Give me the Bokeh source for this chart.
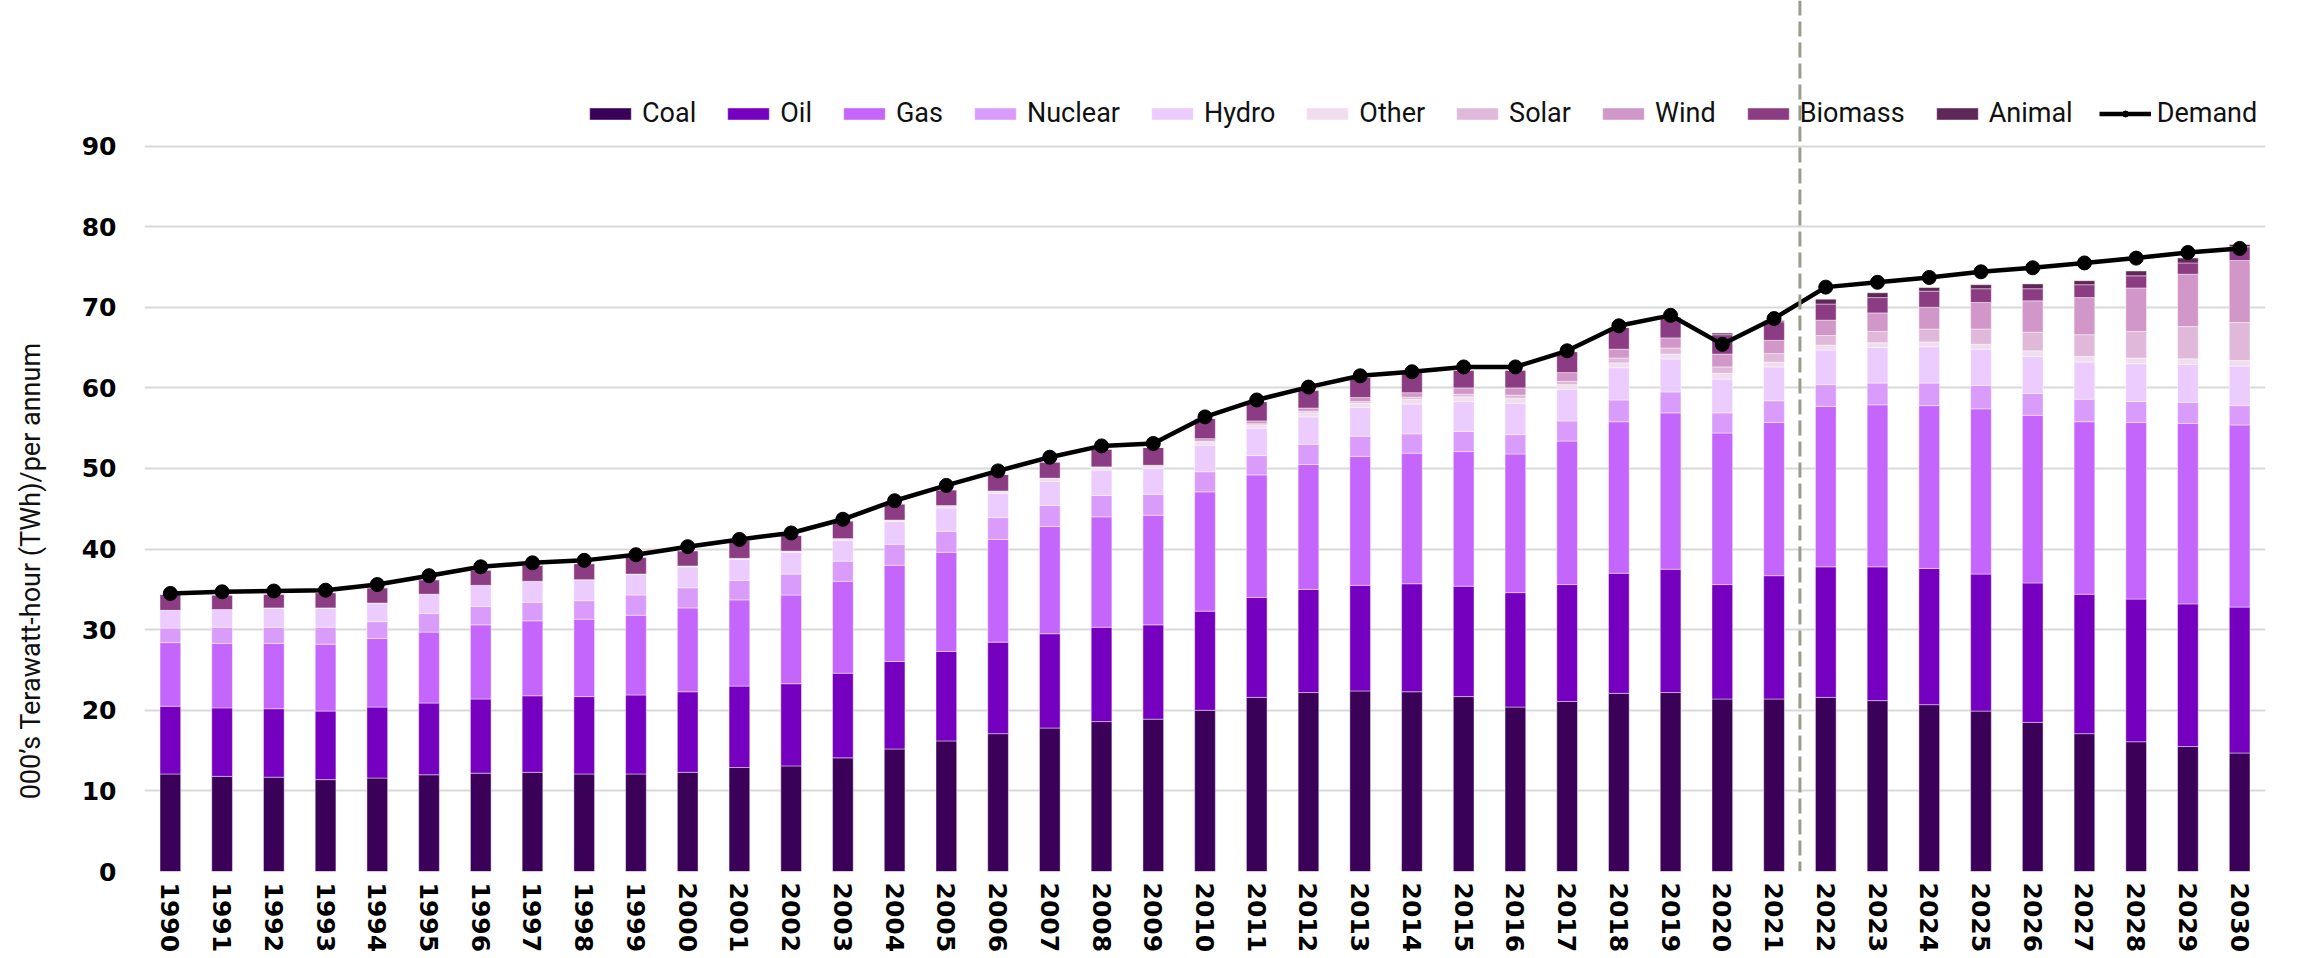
import math
from bokeh.plotting import figure
from bokeh.layouts import row
from bokeh.models import (ColumnDataSource, FixedTicker, Range1d, Span, Legend,
                          LegendItem)
from bokeh.core.properties import value
from bokeh.embed import file_html
from bokeh.resources import INLINE

years = ["1990", "1991", "1992", "1993", "1994", "1995", "1996", "1997", "1998", "1999",
         "2000", "2001", "2002", "2003", "2004", "2005", "2006", "2007", "2008", "2009",
         "2010", "2011", "2012", "2013", "2014", "2015", "2016", "2017", "2018", "2019",
         "2020", "2021", "2022", "2023", "2024", "2025", "2026", "2027", "2028", "2029",
         "2030"]

coal = [12.1, 11.8, 11.7, 11.4, 11.6, 12.0, 12.2, 12.3, 12.1, 12.1,
        12.3, 12.9, 13.1, 14.1, 15.2, 16.2, 17.1, 17.8, 18.6, 18.9,
        20.0, 21.6, 22.2, 22.4, 22.3, 21.7, 20.4, 21.1, 22.1, 22.2,
        21.4, 21.4, 21.6, 21.2, 20.7, 19.9, 18.5, 17.1, 16.1, 15.5,
        14.7]
oil = [8.4, 8.5, 8.5, 8.5, 8.8, 8.9, 9.2, 9.5, 9.6, 9.8,
       10.0, 10.1, 10.2, 10.5, 10.85, 11.1, 11.35, 11.7, 11.7, 11.7,
       12.3, 12.4, 12.8, 13.1, 13.4, 13.7, 14.2, 14.5, 14.9, 15.3,
       14.2, 15.3, 16.2, 16.6, 16.9, 17.0, 17.3, 17.3, 17.7, 17.7,
       18.1]
gas = [7.9, 8.0, 8.1, 8.3, 8.5, 8.8, 9.2, 9.3, 9.6, 9.9,
       10.4, 10.7, 11.0, 11.4, 11.95, 12.3, 12.75, 13.3, 13.7, 13.6,
       14.8, 15.2, 15.5, 16.0, 16.2, 16.7, 17.2, 17.8, 18.8, 19.4,
       18.8, 19.0, 19.9, 20.1, 20.2, 20.5, 20.8, 21.4, 21.9, 22.4,
       22.6]
nuclear = [1.8, 2.0, 2.0, 2.1, 2.1, 2.3, 2.3, 2.3, 2.3, 2.5,
           2.5, 2.4, 2.6, 2.5, 2.6, 2.6, 2.7, 2.6, 2.65, 2.6,
           2.5, 2.4, 2.5, 2.5, 2.4, 2.5, 2.4, 2.5, 2.7, 2.6,
           2.5, 2.7, 2.7, 2.7, 2.8, 2.9, 2.7, 2.8, 2.6, 2.6,
           2.4]
hydro = [2.2, 2.2, 2.4, 2.4, 2.3, 2.4, 2.6, 2.6, 2.6, 2.6,
         2.6, 2.6, 2.7, 2.6, 2.8, 2.9, 3.0, 3.0, 3.15, 3.2,
         3.3, 3.4, 3.4, 3.6, 3.7, 3.7, 3.9, 3.9, 4.0, 4.1,
         4.2, 4.2, 4.3, 4.4, 4.5, 4.5, 4.6, 4.6, 4.7, 4.7,
         4.9]
other = [0.0, 0.0, 0.0, 0.0, 0.0, 0.0, 0.0, 0.0, 0.0, 0.0,
         0.1, 0.15, 0.15, 0.2, 0.2, 0.3, 0.3, 0.4, 0.4, 0.4,
         0.4, 0.4, 0.5, 0.5, 0.6, 0.6, 0.6, 0.6, 0.6, 0.6,
         0.7, 0.6, 0.6, 0.6, 0.6, 0.6, 0.7, 0.7, 0.7, 0.7,
         0.7]
solar = [0.0, 0.0, 0.0, 0.0, 0.0, 0.0, 0.0, 0.0, 0.0, 0.0,
         0.0, 0.0, 0.0, 0.0, 0.0, 0.0, 0.0, 0.0, 0.0, 0.0,
         0.1, 0.15, 0.2, 0.2, 0.25, 0.3, 0.4, 0.4, 0.6, 0.75,
         0.8, 1.05, 1.2, 1.4, 1.6, 1.9, 2.3, 2.7, 3.3, 4.0,
         4.7]
wind = [0.0, 0.0, 0.0, 0.0, 0.0, 0.0, 0.0, 0.0, 0.0, 0.0,
        0.0, 0.0, 0.0, 0.0, 0.0, 0.0, 0.0, 0.0, 0.0, 0.0,
        0.3, 0.35, 0.4, 0.5, 0.55, 0.8, 0.9, 1.1, 1.1, 1.25,
        1.6, 1.65, 1.9, 2.3, 2.7, 3.3, 3.9, 4.6, 5.4, 6.5,
        7.7]
biomass = [2.0, 1.8, 1.7, 1.9, 1.9, 1.8, 1.9, 2.0, 2.0, 2.1,
           1.9, 2.25, 1.95, 2.2, 2.0, 1.95, 2.05, 2.0, 2.2, 2.2,
           2.5, 2.4, 2.2, 2.5, 2.6, 2.2, 2.2, 2.6, 2.7, 2.6,
           2.4, 2.3, 2.0, 1.9, 2.0, 1.7, 1.5, 1.6, 1.5, 1.4,
           1.7]
animal = [0.0, 0.0, 0.0, 0.0, 0.0, 0.0, 0.0, 0.0, 0.0, 0.0,
          0.0, 0.0, 0.0, 0.0, 0.0, 0.0, 0.0, 0.0, 0.0, 0.0,
          0.0, 0.0, 0.0, 0.0, 0.0, 0.0, 0.0, 0.0, 0.0, 0.0,
          0.2, 0.15, 0.6, 0.6, 0.45, 0.5, 0.6, 0.5, 0.6, 0.6,
          0.3]
demand = [34.5, 34.7, 34.8, 34.9, 35.6, 36.7, 37.8, 38.3, 38.6, 39.3,
          40.3, 41.2, 42.0, 43.7, 46.0, 47.9, 49.7, 51.4, 52.8, 53.1,
          56.4, 58.5, 60.1, 61.5, 62.0, 62.6, 62.6, 64.6, 67.7, 69.0,
          65.4, 68.6, 72.5, 73.1, 73.7, 74.4, 74.9, 75.5, 76.1, 76.8,
          77.3]

series_names = ["Coal", "Oil", "Gas", "Nuclear", "Hydro", "Other", "Solar", "Wind",
                "Biomass", "Animal"]
series_values = [coal, oil, gas, nuclear, hydro, other, solar, wind, biomass, animal]
series_colors = ["#3B0058", "#7500C0", "#C466FB", "#DA9CFA", "#ECCBFF", "#F0DDEE",
                 "#E0B9DA", "#D297C9", "#8B3C83", "#5E2757"]
y_ticks = [0, 10, 20, 30, 40, 50, 60, 70, 80, 90]
y_label = "000\u2019s Terawatt-hour (TWh)/per annum"
forecast_start = "2022"

H = 956
LAB_W = 52
TOTAL_W = 2305

data = {"year": years, "demand": demand}
for name, vals in zip(series_names, series_values):
    data[name] = vals
source = ColumnDataSource(data)

# ---- narrow panel holding the rotated y-axis title (pixel coordinates) ----
lab = figure(width=LAB_W, height=H, x_range=Range1d(0, LAB_W), y_range=Range1d(0, H),
             output_backend="svg", toolbar_location=None, x_axis_type=None,
             y_axis_type=None, min_border=0)
lab.outline_line_color = None
lab.xgrid.visible = False
lab.ygrid.visible = False
lab.text(x=[30], y=[H - 626], text=[y_label], angle=math.pi / 2, text_align="center",
         text_baseline="middle", text_font=value("Roboto"), text_font_size="27px",
         text_color="#111111")

# ---- main chart ----
p = figure(x_range=years, y_range=Range1d(0, 108.06), width=TOTAL_W - LAB_W, height=H,
           output_backend="svg", toolbar_location=None,
           min_border_left=144 - LAB_W, min_border_right=TOTAL_W - 2265,
           min_border_top=0, min_border_bottom=H - 871)
p.outline_line_color = None
p.background_fill_color = "white"
p.border_fill_color = "white"

bars = p.vbar_stack(series_names, x="year", width=0.4, source=source,
                    color=series_colors, line_color="white", line_width=0.8,
                    line_alpha=0.55)

line = p.line(x="year", y="demand", source=source, line_color="black", line_width=4.5)
dots = p.scatter(x="year", y="demand", source=source, size=14, fill_color="black",
                 line_color="black", marker="circle")

p.xgrid.grid_line_color = None
p.ygrid.grid_line_color = "#D9D9D9"
p.ygrid.grid_line_width = 2
p.yaxis.ticker = FixedTicker(ticks=y_ticks)
for ax in (p.xaxis, p.yaxis):
    ax.axis_line_color = None
    ax.major_tick_line_color = None
    ax.minor_tick_line_color = None
    ax.major_tick_out = 0
    ax.major_tick_in = 0
    ax.major_label_text_font = "DejaVu Sans"
    ax.major_label_text_font_style = "bold"
    ax.major_label_text_color = "black"
    ax.axis_label = None
p.yaxis.major_label_text_font_size = "25px"
p.yaxis.major_label_standoff = 28
p.xaxis.major_label_text_font_size = "25px"
p.xaxis.major_label_orientation = "vertical"
p.xaxis.major_label_standoff = 11

span = Span(location=years.index(forecast_start), dimension="height",
            line_color="#9B9B8F", line_dash="15 6", line_width=3)
p.add_layout(span)

items = [LegendItem(label=n, renderers=[r]) for n, r in zip(series_names, bars)]
items.append(LegendItem(label="Demand", renderers=[line, dots]))
legend = Legend(items=items, location=(440, 742), orientation="horizontal",
                border_line_color=None, background_fill_alpha=0, padding=0, margin=0,
                spacing=26, label_standoff=6, glyph_width=52, glyph_height=15,
                label_text_font="Roboto", label_text_font_size="27px",
                label_text_color="#111111")
p.add_layout(legend)

layout = row(lab, p, spacing=0)
open("out.html", "w").write(file_html(layout, INLINE))
